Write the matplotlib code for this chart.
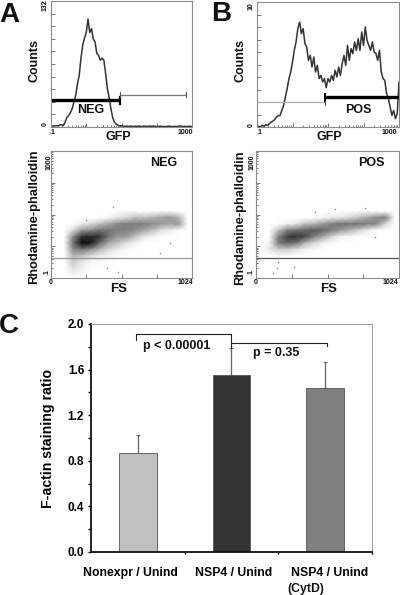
import matplotlib
matplotlib.use("Agg")
import matplotlib.pyplot as plt
from matplotlib.transforms import ScaledTranslation
import numpy as np

plt.rcParams['font.family'] = ['Liberation Sans', 'DejaVu Sans']
plt.rcParams['font.weight'] = 'bold'

W, H = 400, 595

# ---------- data ----------
hist_a_counts = [0,1,1,1.4,1,2,2.5,1.5,5,10,12,15,19,26,33,45,54,72,86,93,99,113,99,103,92,89,77,75,70,72,70,56,40,31,19,10,5,3,2,1,1.4,
                 1,.5,1,.5,1,.5,.5,1,.5,1,.5,.5,1,.5,.5,1,.5,1,.5,.5,.5,1,.5,.5,.5,.5,1,.5,.5,.5,.5,.5,1,.5,.5,.5,.5,.5,.5,.5]
hist_b_counts = [0,.05,.03,.13,.05,.2,.13,.27,.4,.48,.59,.8,.9,.93,1.33,1.73,2.4,3.07,3.87,4.4,5.2,6.13,6.8,7.87,8.4,7.47,7.87,6.67,6.4,5.33,
                 5.73,4.8,5.6,4.4,4.93,3.87,4.13,3.6,3.87,3.15,3.87,3.6,4.13,3.73,4.53,4.0,4.8,4.13,5.07,5.73,4.93,6.53,5.33,6.27,5.87,6.8,
                 6.13,7.07,6.13,7.6,6.53,8.0,6.93,6.53,6.13,6.8,6.0,5.87,5.33,6.13,4.4,3.87,3.73,2.67,2.27,1.6,.93,1.33,.67,1.07,3.6]
hist_log_gfp = [-1 + 0.05 * i for i in range(81)]

fs_channels = [32,96,160,224,288,352,416,480,544,608,672,736,800,864,928,992]
log_rhod_rows = [1.1,.9,.7,.5,.3,.1,-.1,-.3,-.5,-.7,-.9]
density_neg = [
 [0,0,0,0,0,0,0,0,3,3,0,0,3,3,0,0],
 [0,0,0,0,0,0,3,10,15,25,25,30,35,40,30,0],
 [0,0,0,8,15,25,35,45,50,50,50,45,40,35,40,0],
 [0,0,15,40,45,55,55,50,50,45,35,25,12,8,0,0],
 [0,0,45,80,85,80,55,40,40,25,10,5,0,0,0,0],
 [0,0,55,95,90,60,35,25,12,5,0,0,0,0,0,0],
 [0,0,45,55,45,30,15,8,3,0,0,0,0,0,0,0],
 [0,0,30,25,15,8,5,2,0,0,0,0,0,0,0,0],
 [0,0,20,10,3,2,0,0,0,0,0,0,0,0,0,0],
 [0,0,12,6,1,0,0,0,0,0,0,0,0,0,0,0],
 [0,0,4,2,0,0,0,0,0,0,0,0,0,0,0,0]]
density_pos = [
 [0,0,0,0,0,0,0,0,0,2,0,2,3,0,0,0],
 [0,0,0,0,0,0,0,5,8,10,15,25,35,45,50,0],
 [0,0,0,6,10,25,30,40,50,55,55,55,50,45,15,0],
 [0,0,25,50,55,60,65,60,50,40,30,18,8,0,0,0],
 [0,0,50,75,80,70,50,35,15,5,3,0,0,0,0,0],
 [0,5,50,60,55,30,15,5,2,0,0,0,0,0,0,0],
 [0,8,20,20,12,5,2,0,0,0,0,0,0,0,0,0],
 [0,0,2,2,0,0,0,0,0,0,0,0,0,0,0,0],
 [0,0,0,0,0,0,0,0,0,0,0,0,0,0,0,0],
 [0,0,0,0,0,0,0,0,0,0,0,0,0,0,0,0],
 [0,0,0,0,0,0,0,0,0,0,0,0,0,0,0,0]]
stray_neg_fs = [450,252,404,487,790,864]
stray_neg_rhod = [17.8,6.8,.21,.16,.62,1.26]
stray_pos_fs = [160,148,123,272,852,422,566,780]
stray_pos_rhod = [.32,.21,.145,.22,2.0,12,14.8,16]
threshold_neg = 0.436
threshold_pos = 0.44

categories = ['Nonexpr / Unind', 'NSP4 / Unind', 'NSP4 / Unind']
ratios = [0.87, 1.55, 1.44]
errors = [0.16, 0.24, 0.23]
bar_colors = ['#c0c0c0', '#333333', '#808080']
y_ticks = [0.0, 0.4, 0.8, 1.2, 1.6, 2.0]

fig = plt.figure(figsize=(W/100, H/100), dpi=100)

def axes_px(l, t, r, b):
    return fig.add_axes([l/W, 1-b/H, (r-l)/W, (b-t)/H])

def txt(x, y, s, size, rot=0, **kw):
    fig.text(x/W, 1-y/H, s, fontsize=size, rotation=rot, ha=kw.pop('ha', 'center'), va='center',
             fontweight='bold', color='#111111', **kw)

def frame(ax, c='#8c8c8c'):
    for s in ax.spines.values():
        s.set_color(c); s.set_linewidth(0.8)
    ax.tick_params(which='both', direction='in', colors='#444444', width=0.5, labelleft=False,
                   labelbottom=False, top=False, right=False)
    ax.tick_params(which='major', length=3)
    ax.tick_params(which='minor', length=1.5)

def hist_panel(box, counts, ymax):
    ax = axes_px(*box)
    ax.plot(10.0**np.array(hist_log_gfp), counts, color='#333333', lw=1.1)
    ax.set_xscale('log'); ax.set_xlim(0.1, 1000); ax.set_ylim(0, ymax)
    ax.set_yticks(np.linspace(0, ymax, 11))
    frame(ax)
    return ax

# ---------- A histogram ----------
ax = hist_panel((51, 1, 192, 127), hist_a_counts, 132)
ax.plot([0.1, 9], [28, 28], color='black', lw=2.4, solid_capstyle='butt')
ax.plot([9, 9], [24.5, 31.5], color='black', lw=1.6)
ax.plot([9, 680], [34, 34], color='#777777', lw=0.9)
for g in (9, 680):
    ax.plot([g, g], [31.5, 36.5], color='#555555', lw=0.8)

# ---------- B histogram ----------
ax = hist_panel((257, 2, 399, 127), hist_b_counts, 10)
ax.plot([0.1, 8.2], [2.0, 2.0], color='#aaaaaa', lw=0.9)
ax.plot([8.2, 1000], [2.37, 2.37], color='black', lw=2.4, solid_capstyle='butt')
ax.plot([8.2, 8.2], [2.1, 2.65], color='black', lw=1.4)
ax.plot([8.2, 8.2], [1.8, 2.1], color='#555555', lw=0.8)

# ---------- scatter panels ----------
def scatter_panel(box, density, sx, sy, thr, thr_color):
    ax = axes_px(*box)
    ax.pcolormesh(fs_channels, 10.0**np.array(log_rhod_rows), np.array(density, float),
                  shading='gouraud', cmap='gray_r', vmin=0, vmax=100)
    ax.scatter(sx, sy, s=1.2, color='#888888', linewidths=0)
    ax.axhline(thr, color=thr_color, lw=0.9)
    ax.set_yscale('log'); ax.set_xlim(0, 1024); ax.set_ylim(0.1, 1000)
    ax.set_xticks([256, 512, 768])
    frame(ax)
    return ax

scatter_panel((51, 151, 192, 278), density_neg, stray_neg_fs, stray_neg_rhod, threshold_neg, '#999999')
scatter_panel((256, 151, 399, 278), density_pos, stray_pos_fs, stray_pos_rhod, threshold_pos, '#555555')

# ---------- C bars ----------
ax = axes_px(91, 324, 372, 552)
xpos = np.arange(3)
ax.bar(xpos, ratios, width=0.4, color=bar_colors, edgecolor='#555555', linewidth=0.6, zorder=2)
ax.errorbar(xpos, ratios, yerr=[[0, 0, 0], errors], fmt='none', ecolor='#666666', elinewidth=0.9,
            capsize=1.5, capthick=0.8, zorder=1)
ax.set_xlim(-0.5, 2.5); ax.set_ylim(0, 2)
ax.set_yticks(y_ticks)
ax.set_yticks(np.arange(0.2, 2.0, 0.4), minor=True)
ax.set_yticklabels([f'{v:.1f}' for v in y_ticks], fontsize=8.5, fontweight='bold')
ax.set_xticks(xpos)
ax.set_xticklabels(categories, fontsize=8.8, fontweight='bold')
ax.set_xticks([0.5, 1.5, 2.5], minor=True)
ax.tick_params(axis='x', which='major', length=0, pad=11)
ax.tick_params(axis='x', which='minor', length=1.5, width=1, direction='out')
ax.tick_params(axis='y', which='both', length=2, width=1, direction='out', pad=3)
for lab, dx in zip(ax.get_xticklabels(), (-7, 2, 4)):
    lab.set_transform(lab.get_transform() + ScaledTranslation(dx/100, 0, fig.dpi_scale_trans))
for side in ('left', 'bottom'):
    ax.spines[side].set_linewidth(1.3); ax.spines[side].set_color('#111111')
for side in ('top', 'right'):
    ax.spines[side].set_linewidth(0.7); ax.spines[side].set_color('#999999')
ax.plot([-0.02, -0.02, 1, 1], [1.856, 1.912, 1.912, 1.79], color='#222222', lw=0.8)
ax.plot([1, 2.02, 2.02], [1.836, 1.836, 1.81], color='#222222', lw=0.8)
txt(177, 345.5, 'p < 0.00001', 9)
txt(276, 353, 'p = 0.35', 9)
ax.set_ylabel('F-actin staining ratio', fontsize=10.2, fontweight='bold', labelpad=9)
txt(306, 589, '(CytD)', 8.8)

# ---------- texts ----------
for x, y, s in [(9, 15, 'A'), (221, 14, 'B'), (9, 326, 'C')]:
    txt(x, y, s, 20)
txt(34, 60, 'Counts', 9, rot=90)
txt(240, 60, 'Counts', 9, rot=90)
txt(118, 137, 'GFP', 9)
txt(329, 137, 'GFP', 9)
txt(119, 289, 'FS', 9.5)
txt(329, 289, 'FS', 9.5)
txt(34, 217, 'Rhodamine-phalloidin', 9.3, rot=90)
txt(240, 218, 'Rhodamine-phalloidin', 9.3, rot=90)
txt(91, 110, 'NEG', 9)
txt(358, 110, 'POS', 9)
txt(164, 163, 'NEG', 9)
txt(371, 163, 'POS', 9)

tiny = 5
for x, y, s, r in [(45, 5, '132', 90), (45, 124, '0', 90), (52, 132, '.1', 0), (185, 132, '1000', 0),
                   (251, 6, '10', 90), (251, 125, '0', 90), (259, 133, '.1', 0), (389, 133, '1000', 0),
                   (49, 162, '1000', 90), (47, 272, '.1', 90), (51, 283, '0', 0), (185, 283, '1024', 0),
                   (252, 162, '1000', 90), (251, 272, '.1', 90), (256, 283, '0', 0), (390, 283, '1024', 0)]:
    txt(x, y, s, tiny, rot=r)

fig.savefig('out.png', dpi=100)
